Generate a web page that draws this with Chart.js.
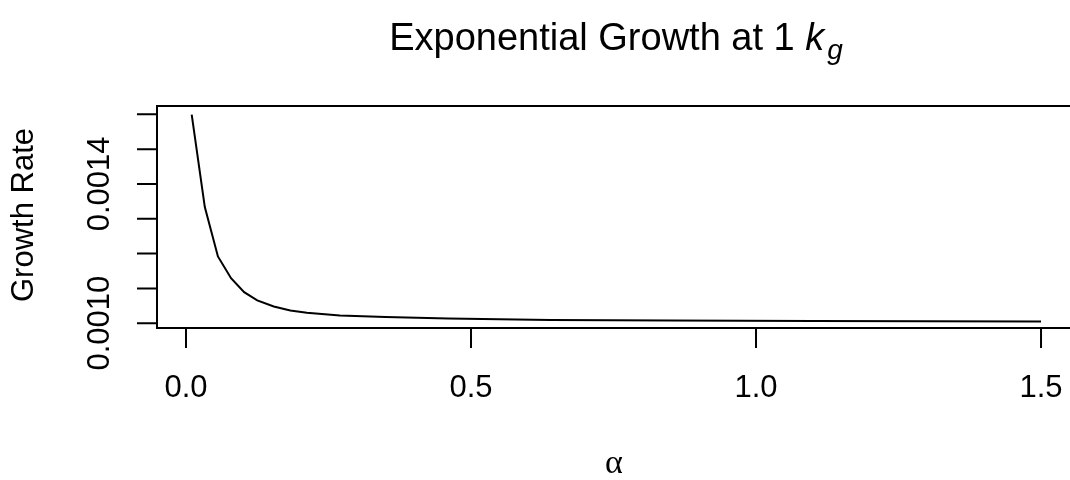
<!DOCTYPE html>
<html>
<head>
<meta charset="utf-8">
<script src="https://cdn.jsdelivr.net/npm/chart.js@4"></script>
<style>
  html, body { margin: 0; padding: 0; background: #fff; overflow: hidden; }
  #wrap { width: 1070px; height: 480px; overflow: hidden; }
</style>
</head>
<body>
<div id="wrap"><canvas id="growthChart" width="1100" height="480"></canvas></div>
<script>
// alpha values and the growth rate at each one
const alphaValues = [0.01, 0.033, 0.056, 0.079, 0.102, 0.125, 0.154, 0.183, 0.212, 0.27, 0.35, 0.46, 0.64, 0.85, 1.1, 1.3, 1.5];
const growthRate = [0.0015992, 0.0013335, 0.0011918, 0.0011294, 0.0010891, 0.0010653, 0.001048, 0.0010365, 0.0010299,
                    0.0010221, 0.0010175, 0.0010135, 0.001009, 0.0010075, 0.001006, 0.0010055, 0.001005];

// axis ticks (y labels that would overlap are left blank)
const xTicks = [0, 0.5, 1.0, 1.5];
const xTickLabels = ['0.0', '0.5', '1.0', '1.5'];
const yTicks = [0.0010, 0.0011, 0.0012, 0.0013, 0.0014, 0.0015, 0.0016];
const yTickLabels = ['0.0010', '', '', '', '0.0014', '', ''];

const FONT = "Arial, 'Liberation Sans', sans-serif";

// box, axes and titles drawn in base-graphics style
const axesPlugin = {
  id: 'baseAxes',
  afterDraw(chart) {
    const ctx = chart.ctx;
    const area = chart.chartArea;
    const xs = chart.scales.x, ys = chart.scales.y;
    const tickLen = 20;
    ctx.save();
    ctx.strokeStyle = '#000';
    ctx.fillStyle = '#000';
    ctx.lineWidth = 2;

    // box
    ctx.strokeRect(area.left, area.top, area.right - area.left, area.bottom - area.top);

    // x axis
    const x0 = xs.getPixelForValue(xTicks[0]);
    const x1 = xs.getPixelForValue(xTicks[xTicks.length - 1]);
    ctx.beginPath();
    ctx.moveTo(x0, area.bottom); ctx.lineTo(x1, area.bottom);
    xTicks.forEach(v => {
      const px = xs.getPixelForValue(v);
      ctx.moveTo(px, area.bottom); ctx.lineTo(px, area.bottom + tickLen);
    });
    ctx.stroke();
    ctx.font = '31px ' + FONT;
    ctx.textAlign = 'center';
    ctx.textBaseline = 'middle';
    xTicks.forEach((v, i) => {
      ctx.fillText(xTickLabels[i], xs.getPixelForValue(v), 388);
    });

    // y axis
    const y0 = ys.getPixelForValue(yTicks[0]);
    const y1 = ys.getPixelForValue(yTicks[yTicks.length - 1]);
    ctx.beginPath();
    ctx.moveTo(area.left, y0); ctx.lineTo(area.left, y1);
    yTicks.forEach(v => {
      const py = ys.getPixelForValue(v);
      ctx.moveTo(area.left, py); ctx.lineTo(area.left - tickLen, py);
    });
    ctx.stroke();
    yTicks.forEach((v, i) => {
      if (!yTickLabels[i]) return;
      ctx.save();
      ctx.translate(100, ys.getPixelForValue(v));
      ctx.rotate(-Math.PI / 2);
      ctx.fillText(yTickLabels[i], 0, 0);
      ctx.restore();
    });

    // y title
    ctx.save();
    ctx.translate(24, 215);
    ctx.rotate(-Math.PI / 2);
    ctx.fillText('Growth Rate', 0, 0);
    ctx.restore();

    // x title
    ctx.font = "34px 'Liberation Serif', 'DejaVu Serif', serif";
    ctx.fillText('\u03b1', 614, 464);

    // main title with italic k and subscript g
    const cx = (area.left + area.right) / 2;
    const mainFont = '38px ' + FONT;
    const italFont = 'italic 38px ' + FONT;
    const subFont = 'italic 28px ' + FONT;
    const partA = 'Exponential Growth at 1 ';
    ctx.font = mainFont; const wA = ctx.measureText(partA).width;
    ctx.font = italFont; const wK = ctx.measureText('k').width;
    ctx.font = subFont; const wG = ctx.measureText('g').width;
    const total = wA + wK + 3 + wG;
    let tx = cx - total / 2;
    const base = 50;
    ctx.textAlign = 'left';
    ctx.textBaseline = 'alphabetic';
    ctx.font = mainFont; ctx.fillText(partA, tx, base); tx += wA;
    ctx.font = italFont; ctx.fillText('k', tx, base); tx += wK + 3;
    ctx.font = subFont; ctx.fillText('g', tx, base + 9);
    ctx.restore();
  }
};

new Chart(document.getElementById('growthChart'), {
  type: 'line',
  data: {
    datasets: [{
      data: alphaValues.map((a, i) => ({ x: a, y: growthRate[i] })),
      borderColor: '#000',
      borderWidth: 2,
      pointRadius: 0,
      tension: 0,
      fill: false
    }]
  },
  options: {
    responsive: false,
    animation: false,
    devicePixelRatio: 1,
    layout: { padding: { left: 157, top: 106, right: 25, bottom: 152 } },
    plugins: { legend: { display: false }, tooltip: { enabled: false }, title: { display: false } },
    scales: {
      x: { type: 'linear', display: false, min: -0.05088, max: 1.5596 },
      y: { type: 'linear', display: false, min: 0.00098618, max: 0.0016239 }
    }
  },
  plugins: [axesPlugin]
});
</script>
</body>
</html>
